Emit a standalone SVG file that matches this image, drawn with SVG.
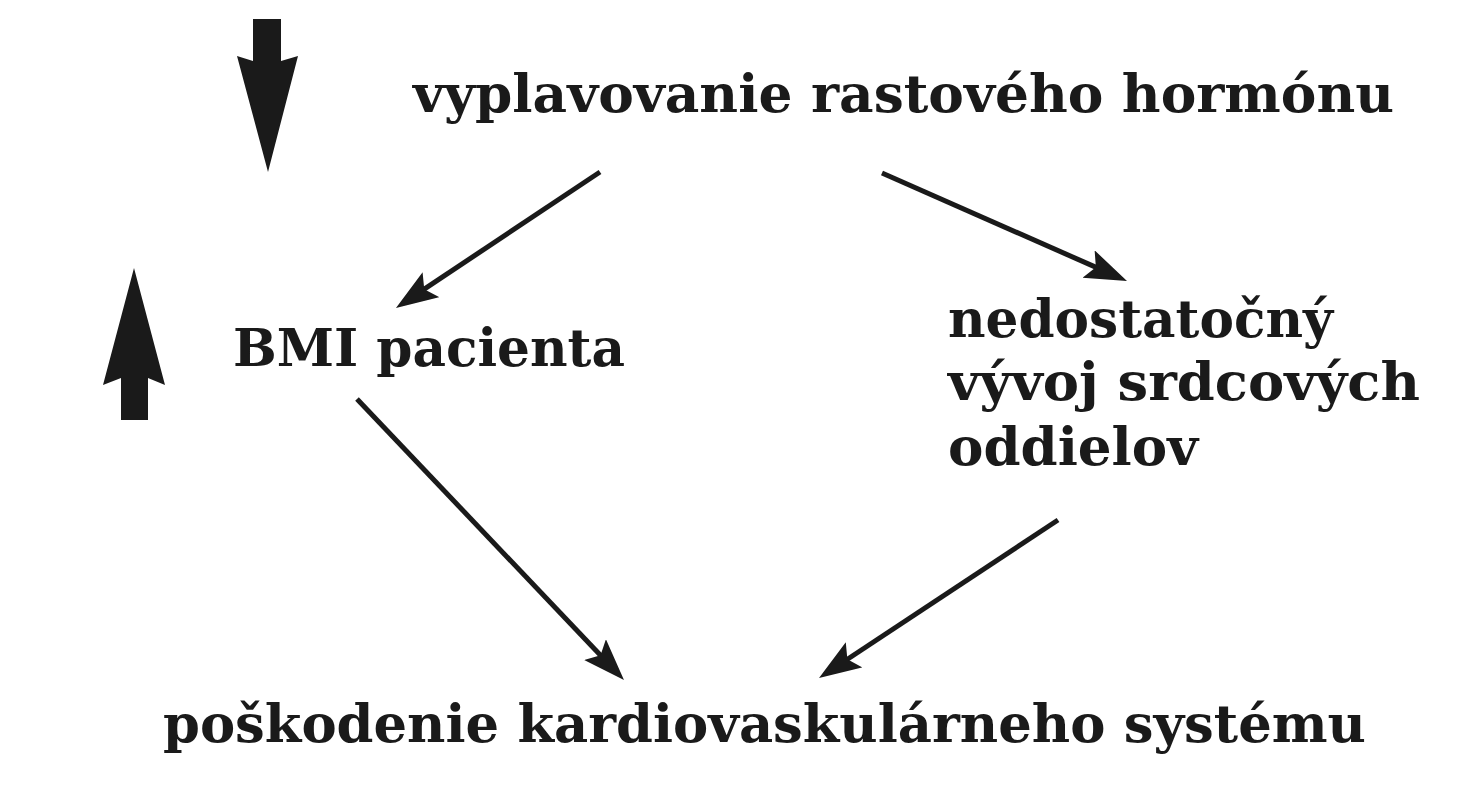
<svg xmlns="http://www.w3.org/2000/svg" width="1471" height="800" viewBox="0 0 1471 800">
  <style>
    .t { font-family: "DejaVu Serif", "Liberation Serif", serif; font-weight: bold; font-size: 53px; fill: #1a1a1a; }
    .c { stroke: #1a1a1a; stroke-width: 5; fill: none; marker-end: url(#ah); }
    .blk { fill: #1a1a1a; }
  </style>
  <defs>
    <marker id="ah" markerUnits="userSpaceOnUse" markerWidth="50" markerHeight="34" refX="22" refY="15" orient="auto">
      <path d="M0,0 L42,15 L0,30 L8,15 Z" fill="#1a1a1a"/>
    </marker>
  </defs>
  <rect width="1471" height="800" fill="#ffffff"/>

  <g id="arrow-down">
    <path class="blk" d="M253,19 L281,19 L281,61 L298,56 L268,172 L237,56 L253,61 Z"/>
  </g>
  <g id="arrow-up">
    <path class="blk" d="M121,420 L148,420 L148,378 L165,385 L134,268 L103,385 L121,378 Z"/>
  </g>

  <g id="node-hormon">
    <text class="t" x="413" y="112" textLength="981" lengthAdjust="spacingAndGlyphs">vyplavovanie rastového hormónu</text>
  </g>
  <g id="node-bmi">
    <text class="t" x="233" y="366" textLength="392" lengthAdjust="spacingAndGlyphs">BMI pacienta</text>
  </g>
  <g id="node-vyvoj">
    <text class="t" x="948" y="337" textLength="385" lengthAdjust="spacingAndGlyphs">nedostatočný</text>
    <text class="t" x="948" y="400" textLength="472" lengthAdjust="spacingAndGlyphs">vývoj srdcových</text>
    <text class="t" x="948" y="465" textLength="250" lengthAdjust="spacingAndGlyphs">oddielov</text>
  </g>
  <g id="node-poskodenie">
    <text class="t" x="163" y="742" textLength="1203" lengthAdjust="spacingAndGlyphs">poškodenie kardiovaskulárneho systému</text>
  </g>

  <g id="connectors">
    <line class="c" x1="600" y1="172" x2="412.6" y2="296.9"/>
    <line class="c" x1="882" y1="173" x2="1108.7" y2="272.9"/>
    <line class="c" x1="357" y1="399" x2="610.2" y2="665.5"/>
    <line class="c" x1="1058" y1="520" x2="835.7" y2="667"/>
  </g>
</svg>
